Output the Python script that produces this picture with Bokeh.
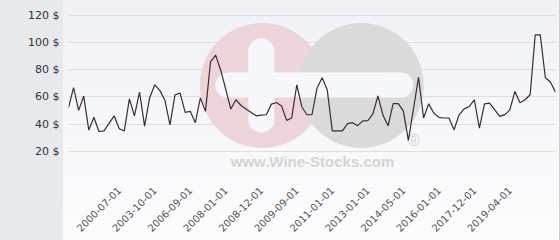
import math
from bokeh.plotting import figure
from bokeh.models import FixedTicker
from bokeh.embed import file_html
from bokeh.resources import INLINE
from bokeh.core.properties import value

# ---- data ----
prices = [52, 66.7, 50, 60.5, 35.5, 45, 34.5, 35, 40.5, 46,
          36.5, 35, 58.5, 46, 63.4, 38.5, 59.3, 68.8, 64.7, 57.5,
          39.4, 61.5, 62.7, 48.6, 49.3, 41, 59.2, 49.3, 85.6, 90.6,
          79.5, 65.5, 51, 57.8, 53.6, 51, 48.5, 46, 46.5, 46.8,
          54.6, 55.8, 53.3, 42.7, 44.4, 68.8, 52.5, 46.8, 46.8, 66.5,
          73.9, 65.2, 35, 35, 35, 40.3, 41, 38.8, 42.3, 42.4,
          47.5, 60.7, 46.4, 38.7, 55, 55, 49.6, 28, 51, 74.3,
          44.4, 54.8, 48.1, 44.9, 44.4, 44.4, 35.8, 46.7, 51.1, 52.8,
          57.8, 37, 54.8, 55.3, 50.6, 45.6, 46.9, 50.4, 63.9, 55.6,
          57.8, 61.5, 105.4, 105.4, 74, 70.8, 63.4]
tick_labels = ["2000-07-01", "2003-10-01", "2006-09-01", "2008-01-01",
               "2008-12-01", "2009-09-01", "2011-01-01", "2013-01-01",
               "2014-05-01", "2016-01-01", "2017-12-01", "2019-04-01"]
first_tick = 10
tick_step = 7
y_ticks = [0, 20, 40, 60, 80, 100, 120]

x = list(range(len(prices)))
tick_pos = [first_tick + tick_step * i for i in range(len(tick_labels))]

p = figure(width=560, height=240, output_backend="svg", toolbar_location=None,
           x_range=(0, len(prices) - 1), y_range=(0, 127),
           min_border_left=68, min_border_right=5, min_border_top=5,
           min_border_bottom=62)
p.border_fill_color = None
p.background_fill_color = None
p.outline_line_color = None
p.styles = {"background": (
    "linear-gradient(to left, #cfcfcf 0px, #cfcfcf 1px, transparent 1px),"
    "linear-gradient(to right, #e6eaed 0px, #e6eaed 63px, transparent 63px),"
    "linear-gradient(to bottom, #f0f1f6 0%, #fcfcfd 100%)")}

# ---- watermark (decoration) ----
pink = "#ecd4da"
grey = "#dadada"
white = "#f6f7fa"
p.scatter([38.2], [68.3], size=125, color=pink, line_color=None)
p.scatter([57.7], [68.3], size=125, color=grey, line_color=None)
p.rect([38.0], [68.3], width=26, height=69, width_units="screen",
       height_units="screen", color=white, line_color=None)
p.scatter([38.0, 38.0], [93.5, 43.2], size=26, color=white, line_color=None)
p.rect([48.5], [68.6], width=173, height=25, width_units="screen",
       height_units="screen", color=white, line_color=None)
p.scatter([31.4, 65.5], [68.6, 68.6], size=25, color=white, line_color=None)
p.text([48.1], [12.5], text=["www.Wine-Stocks.com"], text_align="center",
       text_baseline="middle", text_font=value("Liberation Sans"),
       text_font_style="bold", text_font_size="15px", text_color="#d4d4d4")
p.text([68.0], [27.9], text=["®"], text_align="center",
       text_baseline="middle", text_font=value("Liberation Sans"),
       text_font_size="17px", text_color="#d4d4d4")

# ---- data line ----
p.line(x, prices, line_color="#3d2a36", line_width=1.2)

# ---- axes ----
p.xgrid.visible = False
p.ygrid.ticker = FixedTicker(ticks=y_ticks)
p.ygrid.grid_line_color = "#dedede"

p.yaxis.ticker = FixedTicker(ticks=y_ticks)
p.yaxis.major_label_overrides = {t: (f"{t} $" if t > 0 else "") for t in y_ticks}
p.yaxis.axis_line_color = None
p.yaxis.major_tick_line_color = None
p.yaxis.minor_tick_line_color = None
p.yaxis.major_tick_out = 0
p.yaxis.major_tick_in = 0
p.yaxis.major_label_standoff = 9
p.yaxis.major_label_text_font = "DejaVu Sans"
p.yaxis.major_label_text_font_size = "11px"
p.yaxis.major_label_text_color = "#333333"

p.xaxis.ticker = FixedTicker(ticks=tick_pos)
p.xaxis.major_label_overrides = dict(zip(tick_pos, tick_labels))
p.xaxis.major_label_orientation = math.pi / 4
p.xaxis.axis_line_color = None
p.xaxis.major_tick_line_color = None
p.xaxis.minor_tick_line_color = None
p.xaxis.major_tick_out = 0
p.xaxis.major_tick_in = 0
p.xaxis.major_label_standoff = 10
p.xaxis.major_label_text_font = "DejaVu Sans"
p.xaxis.major_label_text_font_size = "10px"
p.xaxis.major_label_text_color = "#555555"

open("out.html", "w").write(file_html(p, INLINE))
